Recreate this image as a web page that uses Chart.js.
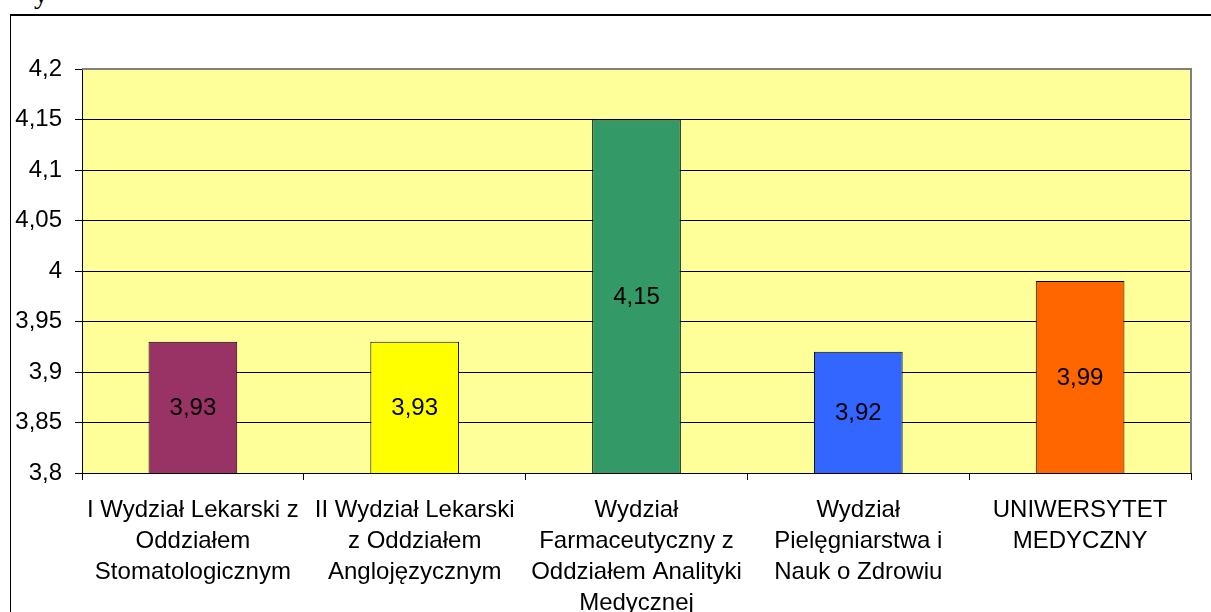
<!DOCTYPE html>
<html>
<head>
<meta charset="utf-8">
<script src="https://cdn.jsdelivr.net/npm/chart.js@4.4.0/dist/chart.umd.min.js"></script>
<style>
  html, body { margin: 0; padding: 0; background: #fff; overflow: hidden; }
  #wrap { position: relative; width: 1211px; height: 612px; }
  #frame { position: absolute; left: 10px; top: 14px; width: 1220px; height: 620px; border-left: 1px solid #000; border-top: 2px solid #000; }
  #cut { position: absolute; left: 34px; top: -22px; font: 28px "Liberation Serif", serif; color: #000; }
  canvas { position: absolute; left: 0; top: 0; }
</style>
</head>
<body>
<div id="wrap">
  <div id="cut">y</div>
  <div id="frame"></div>
  <canvas id="chart" width="1211" height="612"></canvas>
</div>
<script>
const categories = [
  ["I Wydział Lekarski z", "Oddziałem", "Stomatologicznym"],
  ["II Wydział Lekarski", "z Oddziałem", "Anglojęzycznym"],
  ["Wydział", "Farmaceutyczny z", "Oddziałem Analityki", "Medycznej"],
  ["Wydział", "Pielęgniarstwa i", "Nauk o Zdrowiu"],
  ["UNIWERSYTET", "MEDYCZNY"]
];
const values = [3.93, 3.93, 4.15, 3.92, 3.99];
const barColors = ["#993366", "#ffff00", "#339966", "#3366ff", "#ff6600"];
const yMin = 3.8;
const yMax = 4.2;
const yStep = 0.05;

const fontFamily = '"Liberation Sans", Arial, sans-serif';

function fmt(v) {
  return String(Math.round(v * 100) / 100).replace(".", ",");
}

const plotBackground = {
  id: "plotBackground",
  beforeDraw(chart) {
    const { ctx, chartArea: a } = chart;
    ctx.save();
    ctx.fillStyle = "#ffff99";
    ctx.fillRect(a.left, a.top, a.right - a.left, a.bottom - a.top);
    ctx.restore();
  },
  afterDraw(chart) {
    const { ctx, chartArea: a } = chart;
    ctx.save();
    ctx.strokeStyle = "#808080";
    ctx.lineWidth = 2;
    ctx.beginPath();
    ctx.moveTo(a.left, a.top);
    ctx.lineTo(a.right, a.top);
    ctx.lineTo(a.right, a.bottom);
    ctx.stroke();

    // value labels in the middle of each bar
    const xs = chart.scales.x;
    const ys = chart.scales.y;
    ctx.font = "24px " + fontFamily;
    ctx.fillStyle = "#000";
    ctx.textAlign = "center";
    ctx.textBaseline = "middle";
    values.forEach((v, i) => {
      const x = xs.getPixelForValue(i);
      const y = (ys.getPixelForValue(v) + ys.getPixelForValue(yMin)) / 2;
      ctx.fillText(fmt(v), x, y + 1);
    });
    ctx.restore();
  }
};

new Chart(document.getElementById("chart"), {
  type: "bar",
  data: {
    labels: categories,
    datasets: [{
      data: values,
      backgroundColor: barColors,
      borderColor: "#000",
      borderWidth: 1,
      categoryPercentage: 1,
      barPercentage: 0.4
    }]
  },
  options: {
    responsive: false,
    animation: false,
    devicePixelRatio: 1,
    layout: { padding: { top: 69, right: 20, left: 0, bottom: 0 } },
    plugins: { legend: { display: false }, tooltip: { enabled: false } },
    scales: {
      x: {
        afterFit: (s) => { s.height = 139; },
        grid: {
          offset: true,
          drawOnChartArea: false,
          drawTicks: true,
          tickLength: 7,
          color: "#000"
        },
        border: { color: "#000", width: 1 },
        ticks: {
          color: "#000",
          padding: 15,
          maxRotation: 0,
          autoSkip: false,
          font: { family: fontFamily, size: 24, lineHeight: 1.29 }
        }
      },
      y: {
        min: yMin,
        max: yMax,
        afterFit: (s) => { s.width = 82; },
        grid: {
          color: "#000",
          tickLength: 7,
          lineWidth: 1
        },
        border: { color: "#000", width: 1 },
        ticks: {
          stepSize: yStep,
          color: "#000",
          padding: 13,
          font: { family: fontFamily, size: 24 },
          callback: (v) => fmt(v)
        }
      }
    }
  },
  plugins: [plotBackground]
});
</script>
</body>
</html>
